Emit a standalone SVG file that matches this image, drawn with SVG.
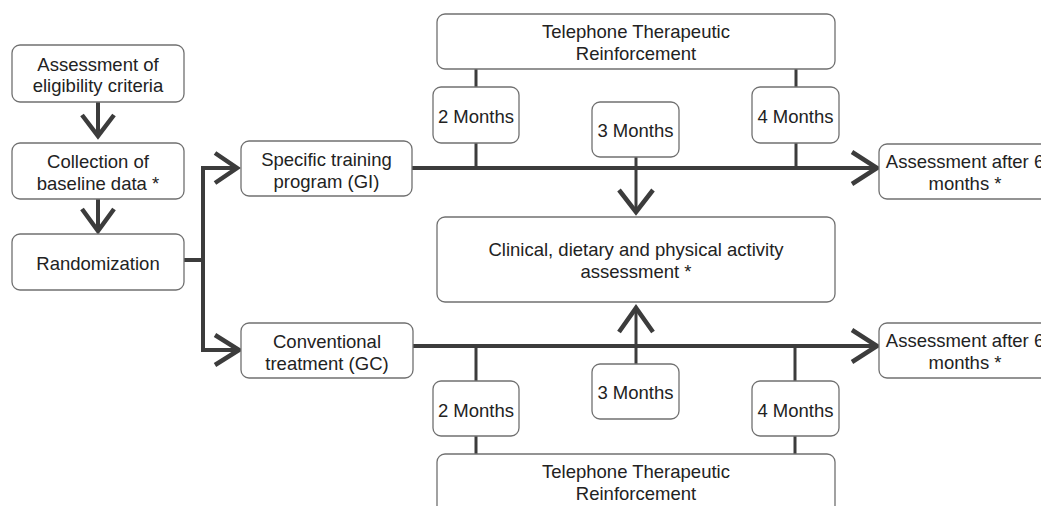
<svg xmlns="http://www.w3.org/2000/svg" width="1041" height="506" viewBox="0 0 1041 506">
<style>
.box{fill:#fff;stroke:#707070;stroke-width:1.3}
.t{font-family:"Liberation Sans",Arial,Helvetica,sans-serif;font-size:18.5px;fill:#222;text-anchor:middle}
.ln{fill:none;stroke:#3c3c3c;stroke-width:4}
.tk{fill:none;stroke:#3c3c3c;stroke-width:3}
.ch{fill:none;stroke:#3c3c3c;stroke-width:4.5;stroke-linejoin:miter;stroke-linecap:butt}
</style>
<rect width="1041" height="506" fill="#fff"/>
<g id="connectors">
<path class="ln" d="M98,102V134"/>
<path class="ch" d="M82,115L98,136L114,115"/>
<path class="ln" d="M98,199V229"/>
<path class="ch" d="M82,209L98,231L114,209"/>
<path class="ln" d="M184,260H203"/>
<path class="ln" d="M203,166V350H236M203,168H235"/>
<path class="ch" d="M215,153L237,168L215,183"/>
<path class="ch" d="M215,335L239,350L215,365"/>
<path class="ln" d="M412,168H874"/>
<path class="ch" d="M852,152L877,168L852,184"/>
<path class="ln" d="M413,346H874"/>
<path class="ch" d="M852,330L877,346L852,362"/>
<path class="tk" d="M476,69V87M476,143V168M796,69V87M796,143V168"/>
<path class="tk" d="M636,157V210"/>
<path class="ch" d="M619,190L636,212L653,190"/>
<path class="tk" d="M476,346V381M476,436V454M795,346V381M795,435V454"/>
<path class="tk" d="M636,364V310"/>
<path class="ch" d="M619,332L636,308L653,332"/>
</g>
<g id="eligibility">
<rect class="box" x="12" y="45" width="172" height="57" rx="8"/>
<text class="t" x="98" y="70.5">Assessment of</text>
<text class="t" x="98" y="92">eligibility criteria</text>
</g>
<g id="baseline">
<rect class="box" x="12" y="143" width="172" height="56" rx="8"/>
<text class="t" x="98" y="168">Collection of</text>
<text class="t" x="98" y="189.5">baseline data *</text>
</g>
<g id="randomization">
<rect class="box" x="12" y="234" width="172" height="56" rx="8"/>
<text class="t" x="98" y="270">Randomization</text>
</g>
<g id="gi">
<rect class="box" x="241" y="141" width="171" height="55" rx="8"/>
<text class="t" x="326.5" y="165.5">Specific training</text>
<text class="t" x="326.5" y="187.5">program (GI)</text>
</g>
<g id="gc">
<rect class="box" x="241" y="323" width="172" height="55" rx="8"/>
<text class="t" x="327" y="347.5">Conventional</text>
<text class="t" x="327" y="369.5">treatment (GC)</text>
</g>
<g id="tel-top">
<rect class="box" x="437" y="14" width="398" height="55" rx="8"/>
<text class="t" x="636" y="38">Telephone Therapeutic</text>
<text class="t" x="636" y="60">Reinforcement</text>
</g>
<g id="m2-top">
<rect class="box" x="433" y="87" width="86" height="56" rx="8"/>
<text class="t" x="476" y="123">2 Months</text>
</g>
<g id="m3-top">
<rect class="box" x="592" y="102" width="87" height="55" rx="8"/>
<text class="t" x="635.5" y="137">3 Months</text>
</g>
<g id="m4-top">
<rect class="box" x="752" y="87" width="87" height="56" rx="8"/>
<text class="t" x="795.5" y="123">4 Months</text>
</g>
<g id="clinical">
<rect class="box" x="437" y="217" width="398" height="85" rx="8"/>
<text class="t" x="636" y="255.5">Clinical, dietary and physical activity</text>
<text class="t" x="636" y="278">assessment *</text>
</g>
<g id="assess-top">
<rect class="box" x="879" y="144" width="174" height="55" rx="8"/>
<text class="t" x="965" y="168">Assessment after 6</text>
<text class="t" x="965" y="190">months *</text>
</g>
<g id="assess-bot">
<rect class="box" x="879" y="323" width="174" height="55" rx="8"/>
<text class="t" x="965" y="347">Assessment after 6</text>
<text class="t" x="965" y="369">months *</text>
</g>
<g id="m2-bot">
<rect class="box" x="433" y="381" width="86" height="55" rx="8"/>
<text class="t" x="476" y="416.5">2 Months</text>
</g>
<g id="m3-bot">
<rect class="box" x="592" y="364" width="87" height="55" rx="8"/>
<text class="t" x="635.5" y="399">3 Months</text>
</g>
<g id="m4-bot">
<rect class="box" x="752" y="381" width="87" height="55" rx="8"/>
<text class="t" x="795.5" y="416.5">4 Months</text>
</g>
<g id="tel-bot">
<rect class="box" x="437" y="454" width="398" height="60" rx="8"/>
<text class="t" x="636" y="478">Telephone Therapeutic</text>
<text class="t" x="636" y="500">Reinforcement</text>
</g>
</svg>
